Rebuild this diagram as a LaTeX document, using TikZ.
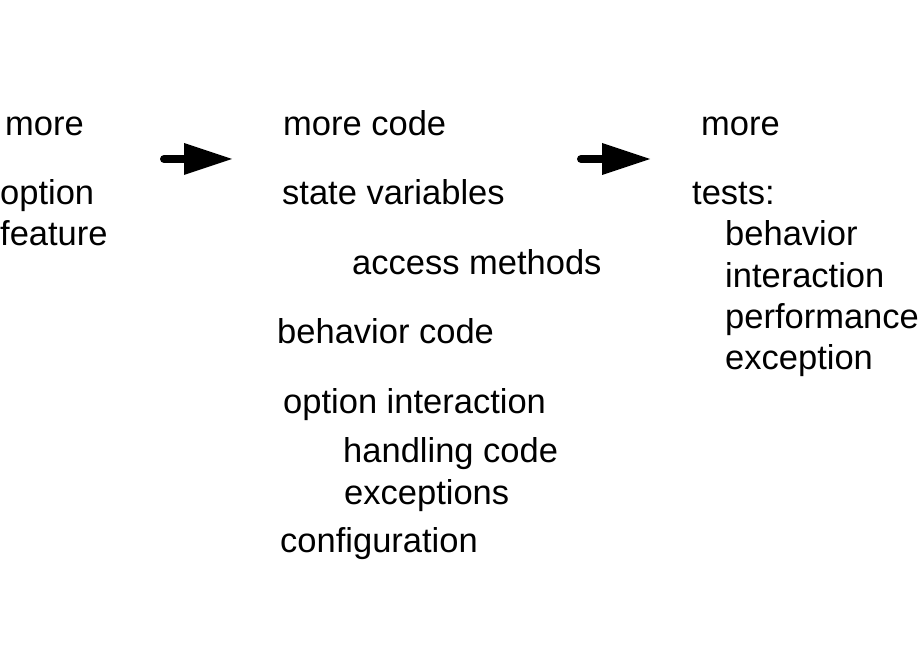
\documentclass[tikz,border=0pt]{standalone}
\usepackage{fontspec}
\setmainfont{Liberation Sans}
\usetikzlibrary{arrows.meta, positioning}
\tikzset{
  label/.style={anchor=base west, inner sep=0pt, font=\fontsize{34.5}{41}\selectfont},
  step arrow/.style={-{Triangle[length=48pt, width=32pt, line width=0pt]},
                     line width=8pt, line cap=round}
}

\begin{document}
\begin{tikzpicture}[x=1pt, y=-1pt]
  \useasboundingbox (0,0) rectangle (920,660);
  % left column
  \node[label] (lmore) at (5,136) {more};
  \node[label] (lopt) at (0,205) {option};
  \node[label] (lfeat) at (0,246) {feature};
  % middle column
  \node[label] (mmore) at (283,136) {more code};
  \node[label] (mstate) at (282,205) {state variables};
  \node[label] (macc) at (352,274) {access methods};
  \node[label] (mbeh) at (277,343) {behavior code};
  \node[label] (mopt) at (283,413) {option interaction};
  \node[label] (mhand) at (343,462) {handling code};
  \node[label] (mexc) at (344,504) {exceptions};
  \node[label] (mconf) at (280,552) {configuration};
  % right column
  \node[label] (rmore) at (701,136) {more};
  \node[label] (rtests) at (692,205) {tests:};
  \foreach \t [count=\i from 0] in {behavior, interaction, performance, exception}
    \node[label] (rt\i) at (725,246+41*\i) {\t};
  % arrows
  \coordinate (a1s) at (164,159);
  \coordinate (a1e) at (232,159);
  \coordinate (a2s) at (581,159);
  \coordinate (a2e) at (650,159);
  \draw[step arrow] (a1s) -- (a1e);
  \draw[step arrow] (a2s) -- (a2e);
\end{tikzpicture}
\end{document}
